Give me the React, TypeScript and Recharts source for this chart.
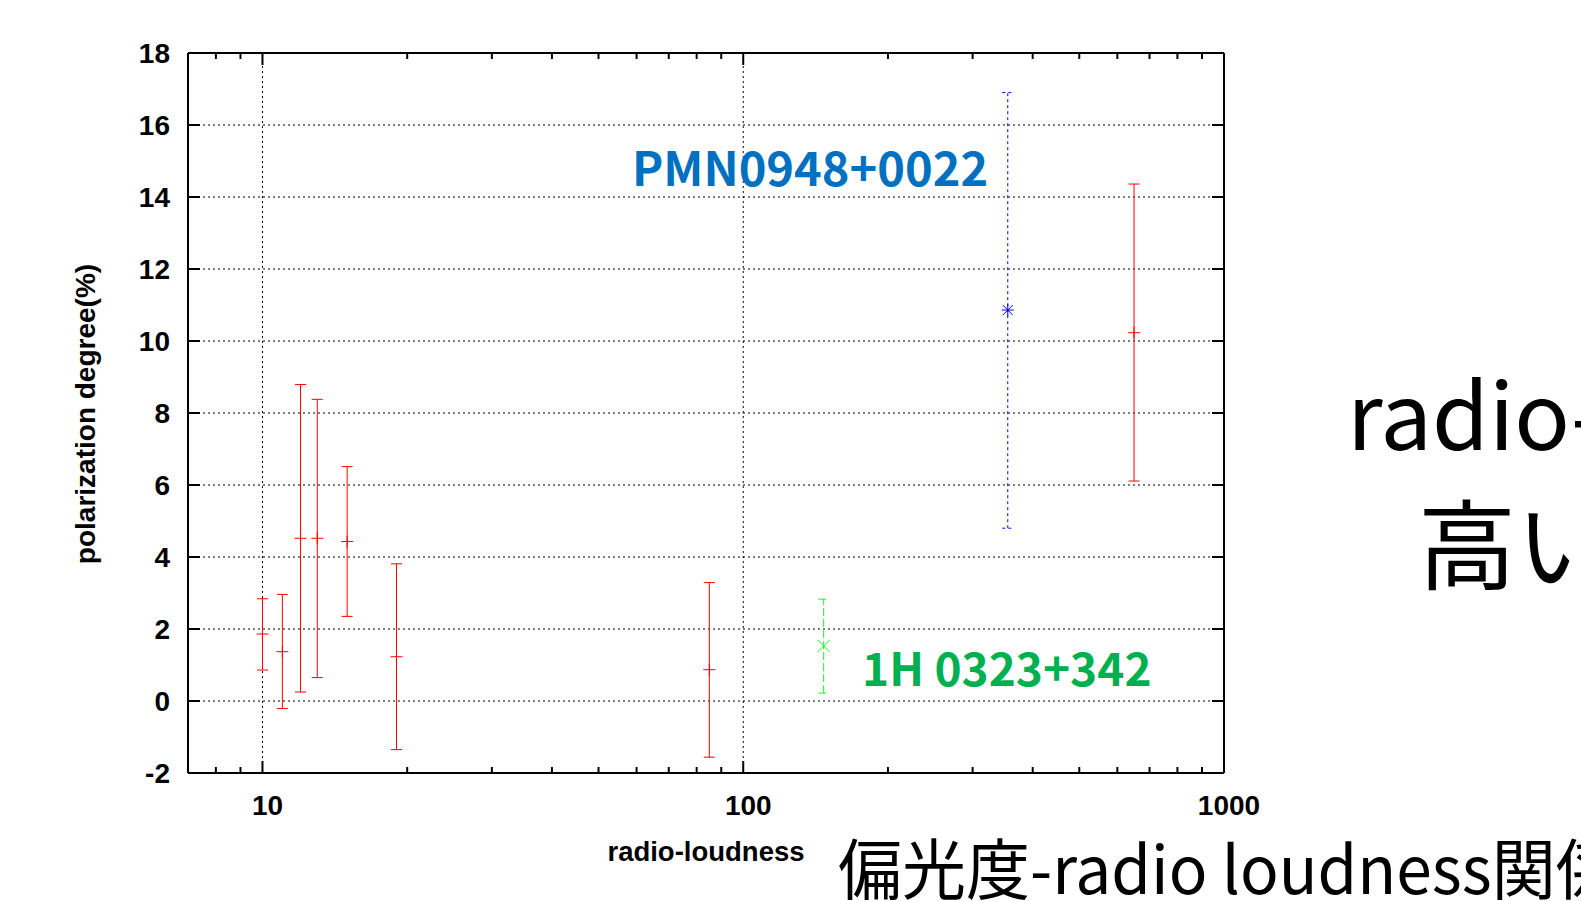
import React from 'react';
import {
  ScatterChart,
  Scatter,
  XAxis,
  YAxis,
  CartesianGrid,
  ErrorBar,
  ReferenceLine,
} from 'recharts';

// ---- data ----
const redX = [10, 11, 12, 13, 15, 19, 85, 650];
const redY = [1.86, 1.37, 4.52, 4.52, 4.43, 1.23, 0.87, 10.23];
const redLow = [0.86, -0.21, 0.25, 0.65, 2.35, -1.35, -1.56, 6.11];
const redHigh = [2.84, 2.96, 8.79, 8.38, 6.51, 3.81, 3.29, 14.36];

const blueX = [355];
const blueY = [10.86];
const blueLow = [4.8];
const blueHigh = [16.9];

const greenX = [147];
const greenY = [1.53];
const greenLow = [0.22];
const greenHigh = [2.83];

const xTicks = [8, 9, 10, 20, 30, 40, 50, 60, 70, 80, 90, 100, 200, 300, 400, 500, 600, 700, 800, 900, 1000];
const xMajor = [10, 100, 1000];
const xGrid = [10, 100];
const yTicks = [-2, 0, 2, 4, 6, 8, 10, 12, 14, 16, 18];

const xLabel = 'radio-loudness';
const yLabel = 'polarization degree(%)';
const pmnLabel = 'PMN0948+0022';
const h1Label = '1H 0323+342';
const slideLine1 = 'radio-';
const slideLine2 = '高い';
const slideTitle = '偏光度-radio loudness関係';

const build = (xs: number[], ys: number[], lo: number[], hi: number[]) =>
  xs.map((x, i) => ({ x, y: ys[i], err: [ys[i] - lo[i], hi[i] - ys[i]] }));

const redData = build(redX, redY, redLow, redHigh);
const blueData = build(blueX, blueY, blueLow, blueHigh);
const greenData = build(greenX, greenY, greenLow, greenHigh);

const W = 1581;
const H = 901;
const tickFont = '"Liberation Sans", Arial, sans-serif';
const cjkFont = '"Noto Sans CJK JP", "Noto Sans", sans-serif';

const PlusShape = (p: any) => {
  const { cx, cy } = p;
  if (cx == null || cy == null) return null;
  return (
    <g stroke="#ff0000" strokeWidth={1}>
      <line x1={cx - 6} y1={cy} x2={cx + 6} y2={cy} />
      <line x1={cx} y1={cy - 6} x2={cx} y2={cy + 6} />
    </g>
  );
};

const StarShape = (p: any) => {
  const { cx, cy } = p;
  if (cx == null || cy == null) return null;
  return (
    <g stroke="#0000ff" strokeWidth={1}>
      <line x1={cx - 6} y1={cy} x2={cx + 6} y2={cy} />
      <line x1={cx} y1={cy - 6} x2={cx} y2={cy + 6} />
      <line x1={cx - 5} y1={cy - 5} x2={cx + 5} y2={cy + 5} />
      <line x1={cx - 5} y1={cy + 5} x2={cx + 5} y2={cy - 5} />
    </g>
  );
};

const CrossShape = (p: any) => {
  const { cx, cy } = p;
  if (cx == null || cy == null) return null;
  return (
    <g stroke="#22ee22" strokeWidth={1}>
      <line x1={cx - 6} y1={cy - 6} x2={cx + 6} y2={cy + 6} />
      <line x1={cx - 6} y1={cy + 6} x2={cx + 6} y2={cy - 6} />
    </g>
  );
};

const Empty = () => null;

const BottomTick = (p: any) => {
  const { x, y, payload } = p;
  const v = payload.value;
  const major = xMajor.includes(v);
  const len = major ? 12 : 6;
  return (
    <g>
      <line x1={x} y1={y} x2={x} y2={y - len} stroke="#000" strokeWidth={2} />
      {major && (
        <text x={x + 5} y={y + 42} textAnchor="middle" fontFamily={tickFont} fontWeight="bold" fontSize={28} fill="#000">
          {v}
        </text>
      )}
    </g>
  );
};

const TopTick = (p: any) => {
  const { x, y, payload } = p;
  const v = payload.value;
  const len = xMajor.includes(v) ? 12 : 6;
  return <line x1={x} y1={y} x2={x} y2={y + len} stroke="#000" strokeWidth={2} />;
};

const LeftTick = (p: any) => {
  const { x, y, payload } = p;
  return (
    <g>
      <line x1={x} y1={y} x2={x + 12} y2={y} stroke="#000" strokeWidth={2} />
      <text x={x - 18} y={y} dy="0.36em" textAnchor="end" fontFamily={tickFont} fontWeight="bold" fontSize={28} fill="#000">
        {payload.value}
      </text>
    </g>
  );
};

const RightTick = (p: any) => {
  const { x, y } = p;
  return <line x1={x} y1={y} x2={x - 12} y2={y} stroke="#000" strokeWidth={2} />;
};

const axisLineStyle = { stroke: '#000', strokeWidth: 2 };

export default function App() {
  return (
    <div style={{ position: 'absolute', left: 0, top: 0, width: W, height: H, overflow: 'hidden', background: '#fff' }}>
      <ScatterChart
        width={W}
        height={H}
        margin={{ top: 52, right: W - 1224 - 1, bottom: H - 773 - 1, left: 187 }}
      >
        <CartesianGrid vertical={false} xAxisId="b" yAxisId="l" stroke="#000" strokeDasharray="2 3" strokeWidth={1} />
        <XAxis
          xAxisId="b"
          dataKey="x"
          type="number"
          scale="log"
          domain={[7, 1000]}
          allowDataOverflow
          ticks={xTicks}
          interval={0}
          height={1}
          tickSize={0}
          tickMargin={0}
          tickLine={false}
          axisLine={axisLineStyle}
          tick={BottomTick}
        />
        <XAxis
          xAxisId="t"
          orientation="top"
          dataKey="x"
          type="number"
          scale="log"
          domain={[7, 1000]}
          allowDataOverflow
          ticks={xTicks}
          interval={0}
          height={1}
          tickSize={0}
          tickMargin={0}
          tickLine={false}
          axisLine={axisLineStyle}
          tick={TopTick}
        />
        <YAxis
          yAxisId="l"
          dataKey="y"
          type="number"
          domain={[-2, 18]}
          allowDataOverflow
          ticks={yTicks}
          interval={0}
          width={1}
          tickSize={0}
          tickMargin={0}
          tickLine={false}
          axisLine={axisLineStyle}
          tick={LeftTick}
        />
        <YAxis
          yAxisId="r"
          orientation="right"
          dataKey="y"
          type="number"
          domain={[-2, 18]}
          allowDataOverflow
          ticks={yTicks}
          interval={0}
          width={1}
          tickSize={0}
          tickMargin={0}
          tickLine={false}
          axisLine={axisLineStyle}
          tick={RightTick}
        />
        {xGrid.map((g) => (
          <ReferenceLine key={g} x={g} xAxisId="b" yAxisId="l" stroke="#000" strokeDasharray="2 3" strokeWidth={1} />
        ))}
        <Scatter data={redData} xAxisId="t" yAxisId="r" shape={Empty} isAnimationActive={false} />
        <Scatter data={redData} xAxisId="b" yAxisId="l" shape={PlusShape} isAnimationActive={false}>
          <ErrorBar dataKey="err" direction="y" width={5.5} stroke="#ff0000" strokeWidth={1} isAnimationActive={false} />
        </Scatter>
        <Scatter data={blueData} xAxisId="b" yAxisId="l" shape={StarShape} isAnimationActive={false}>
          <ErrorBar dataKey="err" direction="y" width={5.5} stroke="#0000ff" strokeWidth={1} strokeDasharray="3 3" isAnimationActive={false} />
        </Scatter>
        <Scatter data={greenData} xAxisId="b" yAxisId="l" shape={CrossShape} isAnimationActive={false}>
          <ErrorBar dataKey="err" direction="y" width={5.5} stroke="#22ee22" strokeWidth={1} strokeDasharray="8 3" isAnimationActive={false} />
        </Scatter>
      </ScatterChart>
      <svg width={W} height={H} style={{ position: 'absolute', left: 0, top: 0, pointerEvents: 'none' }}>
        <text x={95} y={414} transform="rotate(-90 95 414)" textAnchor="middle" fontFamily={tickFont} fontWeight="bold" fontSize={28} fill="#000">
          {yLabel}
        </text>
        <text x={706} y={861} textAnchor="middle" fontFamily={tickFont} fontWeight="bold" fontSize={27.5} fill="#000">
          {xLabel}
        </text>
        <text x={632} y={186} fontFamily={cjkFont} fontWeight="bold" fontSize={47} fill="#0070C0">
          {pmnLabel}
        </text>
        <text x={862} y={686} fontFamily={cjkFont} fontWeight="bold" fontSize={46} fill="#00B050">
          {h1Label}
        </text>
        <text x={1347} y={450} fontFamily={cjkFont} fontSize={92} fill="#000">
          {slideLine1}
        </text>
        <text x={1418} y={582} fontFamily={cjkFont} fontSize={98} fill="#000">
          {slideLine2}
        </text>
        <text x={0} y={0} transform="translate(838 894) scale(0.97 1)" fontFamily={cjkFont} fontSize={66} fill="#000">
          {slideTitle}
        </text>
      </svg>
    </div>
  );
}
